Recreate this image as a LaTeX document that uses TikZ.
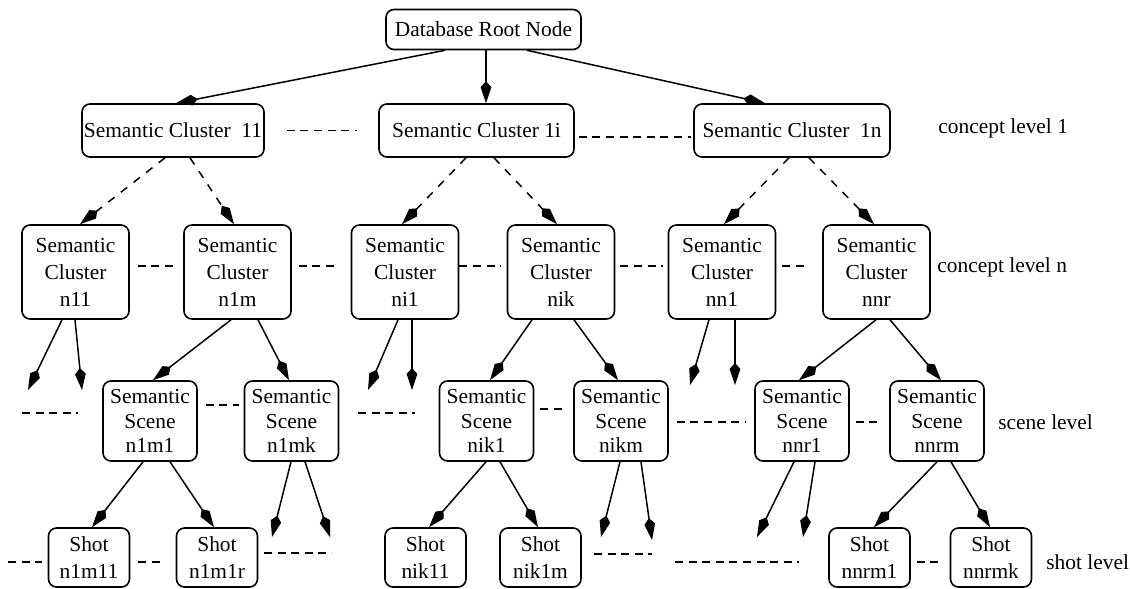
\documentclass[tikz,border=0pt]{standalone}
\usepackage{fontspec}
\setmainfont{Liberation Serif}
\usetikzlibrary{arrows.meta,calc}
\begin{document}
\begin{tikzpicture}[x=0.5pt,y=-0.5pt,
  box/.style={draw,rounded corners=4pt,line width=0.8pt,inner sep=0pt,align=center,font=\fontsize{10.7}{13.5}\selectfont},
  rootbox/.style={box,minimum width=97.5pt,minimum height=20pt},
  lone/.style={box,minimum height=26.5pt},
  lnbox/.style={box,minimum width=53.5pt,minimum height=47pt},
  scbox/.style={box,minimum width=47pt,minimum height=40pt,font=\fontsize{10.7}{12.3}\selectfont},
  shbox/.style={box,minimum width=40.5pt,minimum height=29.5pt},
  lab/.style={anchor=west,inner sep=0pt,font=\fontsize{10.7}{13}\selectfont},
  arr/.style={line width=0.75pt,-{Kite[length=11pt,width=5.4pt,inset=3pt]}},
  darr/.style={arr,dash pattern=on 4pt off 4pt},
  dsh/.style={line width=0.75pt,dash pattern=on 4pt off 2.8pt}]
\useasboundingbox (0,0) rectangle (1130,589);

% nodes
\node[rootbox] (root) at (483.5,29.5) {Database Root Node};
\node[lone,minimum width=91pt] (c11) at (173,130.5) {Semantic Cluster~~11};
\node[lone,minimum width=97.5pt] (c1i) at (476.5,130.5) {Semantic Cluster 1i};
\node[lone,minimum width=98pt] (c1n) at (792,130.5) {Semantic Cluster~~1n};

\node[lnbox] (n11) at (75.5,272) {Semantic\\Cluster\\n11};
\node[lnbox] (n1m) at (237.5,272) {Semantic\\Cluster\\n1m};
\node[lnbox] (ni1) at (405,272) {Semantic\\Cluster\\ni1};
\node[lnbox] (nik) at (561,272) {Semantic\\Cluster\\nik};
\node[lnbox] (nn1) at (722,272) {Semantic\\Cluster\\nn1};
\node[lnbox] (nnr) at (876.5,272) {Semantic\\Cluster\\nnr};

\node[scbox] (n1m1) at (150,421) {Semantic\\Scene\\n1m1};
\node[scbox] (n1mk) at (291.5,421) {Semantic\\Scene\\n1mk};
\node[scbox] (nik1) at (486.5,421) {Semantic\\Scene\\nik1};
\node[scbox] (nikm) at (621,421) {Semantic\\Scene\\nikm};
\node[scbox] (nnr1) at (802,421) {Semantic\\Scene\\nnr1};
\node[scbox] (nnrm) at (937,421) {Semantic\\Scene\\nnrm};

\node[shbox] (n1m11) at (89,557.5) {Shot\\n1m11};
\node[shbox] (n1m1r) at (217,557.5) {Shot\\n1m1r};
\node[shbox] (nik11) at (425.5,557.5) {Shot\\nik11};
\node[shbox] (nik1m) at (540.5,557.5) {Shot\\nik1m};
\node[shbox] (nnrm1) at (869.5,557.5) {Shot\\nnrm1};
\node[shbox] (nnrmk) at (991,557.5) {Shot\\nnrmk};

% level labels
\node[lab] (lv1) at (938,128) {concept level 1};
\node[lab] (lvn) at (937,267) {concept level n};
\node[lab] (lvs) at (998,422) {scene level};
\node[lab] (lvt) at (1046,562) {shot level};

% free ends
\coordinate (f1) at (28,390);
\coordinate (f2) at (82,390);
\coordinate (f3) at (368,390);
\coordinate (f4) at (412,390);
\coordinate (f5) at (690,385);
\coordinate (f6) at (735,385);
\coordinate (g1) at (272,537);
\coordinate (g2) at (330,537);
\coordinate (g3) at (601,537);
\coordinate (g4) at (652,540);
\coordinate (g5) at (757,537);
\coordinate (g6) at (803,537);
\coordinate (s1) at (22,413);
\coordinate (s2) at (78,413);
\coordinate (s3) at (358,413);
\coordinate (s4) at (415,413);
\coordinate (t1) at (8,562);
\coordinate (t3) at (264,553);
\coordinate (t4) at (332,553);
\coordinate (t5) at (594,554);
\coordinate (t6) at (652,554);
\coordinate (t7) at (675,562);
\coordinate (t8) at (799,562);

% root arrows
\draw[arr] ($(root.south)+(-38.5,0)$) -- ($(c11.north)+(3,0)$);
\draw[arr] ($(root.south)+(2.5,0)$) -- ($(c1i.north)+(9.5,0)$);
\draw[arr] ($(root.south)+(43.5,0)$) -- ($(c1n.north)+(-27,0)$);

% level 1 -> level n
\draw[darr] ($(c11.south)+(-8,0)$) -- ($(n11.north)+(4.5,0)$);
\draw[darr] ($(c11.south)+(17,0)$) -- ($(n1m.north)+(-3.5,0)$);
\draw[darr] ($(c1i.south)+(-10.5,0)$) -- ($(ni1.north)+(-3,0)$);
\draw[darr] ($(c1i.south)+(17.5,0)$) -- ($(nik.north)+(-4,0)$);
\draw[darr] ($(c1n.south)+(-3,0)$) -- ($(nn1.north)+(2,0)$);
\draw[darr] ($(c1n.south)+(17,0)$) -- ($(nnr.north)+(-2.5,0)$);

% level n -> scenes
\draw[arr] ($(n11.south)+(-13.5,0)$) -- (f1);
\draw[arr] ($(n11.south)+(-0.5,0)$) -- (f2);
\draw[arr] ($(n1m.south)+(-6.5,0)$) -- ($(n1m1.north)+(3,0)$);
\draw[arr] ($(n1m.south)+(20.5,0)$) -- ($(n1mk.north)+(-2.5,0)$);
\draw[arr] ($(ni1.south)+(-7,0)$) -- (f3);
\draw[arr] ($(ni1.south)+(7,0)$) -- (f4);
\draw[arr] ($(nik.south)+(-29,0)$) -- ($(nik1.north)+(3.5,0)$);
\draw[arr] ($(nik.south)+(13,0)$) -- ($(nikm.north)+(-3,0)$);
\draw[arr] ($(nn1.south)+(-13,0)$) -- (f5);
\draw[arr] ($(nn1.south)+(13,0)$) -- (f6);
\draw[arr] ($(nnr.south)+(-0.5,0)$) -- ($(nnr1.north)+(-3,0)$);
\draw[arr] ($(nnr.south)+(13.5,0)$) -- ($(nnrm.north)+(4,0)$);

% scenes -> shots
\draw[arr] ($(n1m1.south)+(-7,0)$) -- ($(n1m11.north)+(3,0)$);
\draw[arr] ($(n1m1.south)+(20,0)$) -- ($(n1m1r.north)+(-3,0)$);
\draw[arr] ($(n1mk.south)+(-0.5,0)$) -- (g1);
\draw[arr] ($(n1mk.south)+(13.5,0)$) -- (g2);
\draw[arr] ($(nik1.south)+(-0.5,0)$) -- ($(nik11.north)+(3.5,0)$);
\draw[arr] ($(nik1.south)+(13.5,0)$) -- ($(nik1m.north)+(-2.5,0)$);
\draw[arr] ($(nikm.south)+(-1,0)$) -- (g3);
\draw[arr] ($(nikm.south)+(20,0)$) -- (g4);
\draw[arr] ($(nnr1.south)+(-8,0)$) -- (g5);
\draw[arr] ($(nnr1.south)+(13,0)$) -- (g6);
\draw[arr] (nnrm.south) -- ($(nnrm1.north)+(4.5,0)$);
\draw[arr] ($(nnrm.south)+(14,0)$) -- ($(nnrmk.north)+(-1,0)$);

% dashed sibling links
\draw[dsh] ($(c11.east)+(22,0)$) -- ($(c1i.west)+(-21,0)$);
\draw[dsh] ($(c1i.east)+(4,6.5)$) -- ($(c1n.west)+(-2,6.5)$);

\draw[dsh] ($(n11.east)+(8,-6)$) -- ($(n1m.west)+(-6,-6)$);
\draw[dsh] ($(n1m.east)+(7,-6)$) -- ($(ni1.west)+(-12,-6)$);
\draw[dsh] ($(ni1.east)+(0,-6)$) -- ($(nik.west)+(-6,-6)$);
\draw[dsh] ($(nik.east)+(5,-6)$) -- ($(nn1.west)+(-5,-6)$);
\draw[dsh] ($(nn1.east)+(6,-6)$) -- ($(nnr.west)+(-18,-6)$);

\draw[dsh] (s1) -- (s2);
\draw[dsh] ($(n1m1.east)+(8,-16)$) -- ($(n1mk.west)+(-5,-16)$);
\draw[dsh] (s3) -- (s4);
\draw[dsh] ($(nik1.east)+(6,-12)$) -- ($(nikm.west)+(-8,-12)$);
\draw[dsh] ($(nikm.east)+(8,1)$) -- ($(nnr1.west)+(-9,1)$);
\draw[dsh] ($(nnr1.east)+(6,1)$) -- ($(nnrm.west)+(-9,1)$);

\draw[dsh] (t1) -- ($(n1m11.west)+(-6,4.5)$);
\draw[dsh] ($(n1m11.east)+(8,4.5)$) -- ($(n1m1r.west)+(-14,4.5)$);
\draw[dsh] (t3) -- (t4);
\draw[dsh] (t5) -- (t6);
\draw[dsh] (t7) -- (t8);
\draw[dsh] ($(nnrm1.east)+(6,4.5)$) -- ($(nnrmk.west)+(-9,4.5)$);
\end{tikzpicture}
\end{document}
